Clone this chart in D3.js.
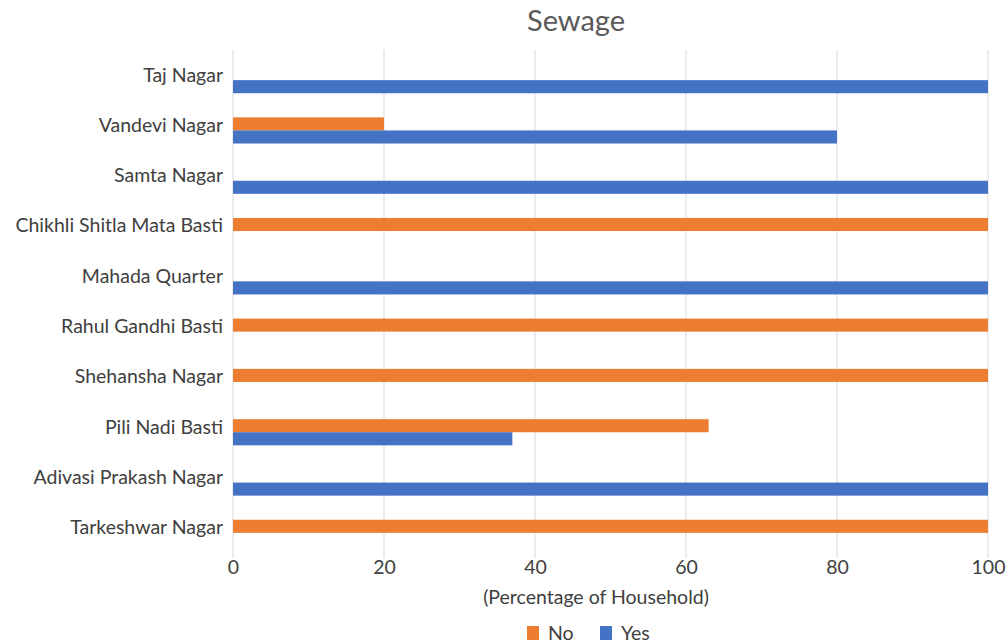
<!DOCTYPE html>
<html>
<head>
<meta charset="utf-8">
<script src="https://cdn.jsdelivr.net/npm/d3@7"></script>
<style>
  html, body { margin: 0; padding: 0; background: #fff; }
  svg { display: block; font-family: Lato, "Open Sans", sans-serif; }
</style>
</head>
<body>
<svg id="chart" width="1008" height="644"></svg>
<script>
// Settlements, top to bottom
const categories = [
  "Taj Nagar", "Vandevi Nagar", "Samta Nagar", "Chikhli Shitla Mata Basti",
  "Mahada Quarter", "Rahul Gandhi Basti", "Shehansha Nagar", "Pili Nadi Basti",
  "Adivasi Prakash Nagar", "Tarkeshwar Nagar"
];
// Share of households (%) without / with sewage connection
const noValues  = [0, 20, 0, 100, 0, 100, 100, 63, 0, 100];
const yesValues = [100, 80, 100, 0, 100, 0, 0, 37, 100, 0];
const seriesNames = ["No", "Yes"];
const xTicks = [0, 20, 40, 60, 80, 100];

const colors = { No: "#ED7D31", Yes: "#4472C4" };
const textColor = "#404040";
const fontSize = 19.5;

const svg = d3.select("#chart");
const plot = { left: 233, right: 988, top: 55, bottom: 558 };

const x = d3.scaleLinear().domain([0, 100]).range([plot.left, plot.right]);
const y = d3.scaleBand().domain(categories).range([plot.top, plot.bottom]).paddingInner(0.48).paddingOuter(0.24);
const sub = d3.scaleBand().domain(seriesNames).range([0, y.bandwidth()]);

// Vertical gridlines
svg.append("g")
  .selectAll("line")
  .data(xTicks)
  .join("line")
  .attr("x1", d => x(d)).attr("x2", d => x(d))
  .attr("y1", plot.top - 5).attr("y2", plot.bottom)
  .attr("stroke", "#d9d9d9").attr("stroke-width", 1);

// Bars
const rows = categories.map((c, i) => ({ c, No: noValues[i], Yes: yesValues[i] }));
const groups = svg.append("g").selectAll("g")
  .data(rows).join("g")
  .attr("transform", d => `translate(0,${y(d.c)})`);

groups.selectAll("rect")
  .data(d => seriesNames.map(k => ({ k, v: d[k] })).filter(e => e.v > 0))
  .join("rect")
  .attr("x", x(0))
  .attr("y", e => sub(e.k))
  .attr("width", e => x(e.v) - x(0))
  .attr("height", sub.bandwidth())
  .attr("fill", e => colors[e.k]);

// Category labels
const yAxis = d3.axisLeft(y).tickSize(0).tickPadding(10);
const yg = svg.append("g").attr("transform", `translate(${plot.left},0)`).call(yAxis);
yg.select(".domain").remove();
yg.selectAll("text")
  .attr("font-family", "Lato, 'Open Sans', sans-serif")
  .attr("font-size", fontSize).attr("fill", textColor).attr("dy", "0.07em");

// Value axis
const xAxis = d3.axisBottom(x).tickValues(xTicks).tickSize(0).tickPadding(2);
const xg = svg.append("g").attr("transform", `translate(0,${plot.bottom})`).call(xAxis);
xg.select(".domain").remove();
xg.selectAll("text")
  .attr("font-family", "Lato, 'Open Sans', sans-serif")
  .attr("font-size", fontSize).attr("fill", textColor);

// Axis title
svg.append("text")
  .attr("x", 596).attr("y", 604)
  .attr("text-anchor", "middle")
  .attr("font-size", fontSize).attr("fill", textColor)
  .text("(Percentage of Household)");

// Chart title
svg.append("text")
  .attr("x", 576).attr("y", 31)
  .attr("text-anchor", "middle")
  .attr("font-size", 29).attr("fill", "#595959")
  .text("Sewage");

// Legend
const legendX = [527, 600];
const lg = svg.append("g").selectAll("g")
  .data(seriesNames).join("g")
  .attr("transform", (d, i) => `translate(${legendX[i]},626)`);
lg.append("rect").attr("width", 12).attr("height", 14).attr("fill", d => colors[d]);
lg.append("text").attr("x", 21).attr("y", 14)
  .attr("font-size", fontSize).attr("fill", textColor).text(d => d);
</script>
</body>
</html>
